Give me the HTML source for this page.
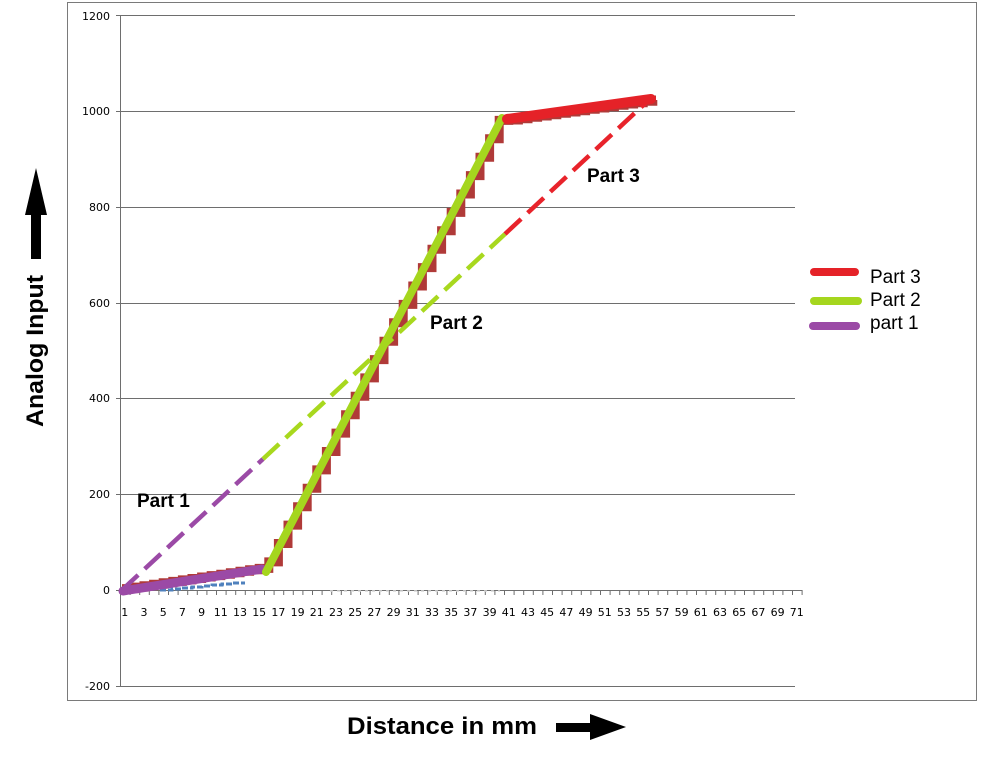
<!DOCTYPE html>
<html>
<head>
<meta charset="utf-8">
<style>
  html,body{margin:0;padding:0;background:#fff;}
  svg{display:block;}
  .tick{font-family:"DejaVu Sans","Liberation Sans",sans-serif;font-size:11px;fill:#000;}
  .lbl{font-family:"Liberation Sans",Arial,sans-serif;font-weight:bold;fill:#000;}
  .leg{font-family:"Liberation Sans",Arial,sans-serif;font-size:19px;fill:#000;}
</style>
</head>
<body>
<svg width="995" height="759" viewBox="0 0 995 759" xmlns="http://www.w3.org/2000/svg">
  <rect x="0" y="0" width="995" height="759" fill="#fff"/>
  <!-- chart border -->
  <rect x="67.5" y="2.5" width="909" height="698" fill="none" stroke="#7a7a7a" stroke-width="1"/>

  <!-- gridlines -->
  <g stroke="#6e6e6e" stroke-width="1">
    <line x1="116" y1="15.5" x2="795" y2="15.5"/>
    <line x1="116" y1="111.5" x2="795" y2="111.5"/>
    <line x1="116" y1="207.5" x2="795" y2="207.5"/>
    <line x1="116" y1="303.5" x2="795" y2="303.5"/>
    <line x1="116" y1="398.5" x2="795" y2="398.5"/>
    <line x1="116" y1="494.5" x2="795" y2="494.5"/>
    <line x1="116" y1="590.5" x2="802" y2="590.5"/>
    <line x1="116" y1="686.5" x2="795" y2="686.5"/>
    <line x1="120.5" y1="15" x2="120.5" y2="687"/>
  </g>

  <!-- x ticks -->
  <g stroke="#6e6e6e" stroke-width="1" id="xt"></g>

  <!-- y tick labels -->
  <g class="tick" text-anchor="end">
    <text x="110" y="20">1200</text>
    <text x="110" y="115">1000</text>
    <text x="110" y="211">800</text>
    <text x="110" y="307">600</text>
    <text x="110" y="402">400</text>
    <text x="110" y="498">200</text>
    <text x="110" y="594">0</text>
    <text x="110" y="690">-200</text>
  </g>

  <!-- x tick labels -->
  <g class="tick" text-anchor="middle" id="xl"></g>

  <!-- faint dotted line along axis -->
  <line x1="330" y1="591" x2="500" y2="591" stroke="#d8d8d8" stroke-width="1.5" stroke-dasharray="3 4"/>

  <!-- red staircase series -->
  <path d="M122 588.6 H134.4 V587.1 H144 V585.7 H153.6 V584.2 H163.2 V582.8 H172.8 V581.4 H182.4 V579.9 H192 V578.5 H201.6 V577 H211.2 V575.6 H220.8 V574.2 H230.4 V572.7 H240 V571.3 H249.6 V569.8 H259.2 V568.4 H268.8 V561.9 H278.4 V543.5 H288 V525.1 H297.6 V506.7 H307.2 V488.3 H316.8 V469.9 H326.4 V451.5 H336 V433.1 H345.6 V414.7 H355.2 V396.3 H364.8 V377.9 H374.4 V359.6 H384 V341.2 H393.6 V322.8 H403.2 V304.4 H412.8 V286 H422.4 V267.6 H432 V249.2 H441.6 V230.8 H451.2 V212.4 H460.8 V194 H470.4 V175.6 H480 V157.2 H489.6 V138.8 H499.2 V120.4 H508.8 V120 H518.4 V118.7 H528 V117.3 H537.6 V116 H547.2 V114.7 H556.8 V113.3 H566.4 V112 H576 V110.7 H585.6 V109.3 H595.2 V108 H604.8 V106.7 H614.4 V105.3 H624 V104 H633.6 V102.7 H643.2 V101.3 H652.8 V100 H656"
        fill="none" stroke="#b03a38" stroke-width="9" stroke-linejoin="miter"/>

  <!-- blue small series -->
  <path d="M160 590 H172 V589 H182 V588 H192 V587 H202 V586 H212 V585 H222 V584 H232 V583 H245"
        fill="none" stroke="#4f81bd" stroke-width="3" stroke-dasharray="6 2"/>

  <!-- dashed trend lines -->
  <line x1="122" y1="590" x2="263" y2="459" stroke="#9b4aa6" stroke-width="4.5" stroke-dasharray="22 9"/>
  <line x1="263" y1="459" x2="505" y2="234" stroke="#a8d81e" stroke-width="4.5" stroke-dasharray="22 9"/>
  <line x1="505" y1="234" x2="652" y2="97" stroke="#e8232b" stroke-width="4.5" stroke-dasharray="22 9"/>

  <!-- solid part lines -->
  <line x1="123" y1="591" x2="262" y2="569" stroke="#9b4aa6" stroke-width="9" stroke-linecap="round"/>
  <line x1="266" y1="572" x2="502" y2="118" stroke="#a5d61e" stroke-width="8" stroke-linecap="round"/>
  <line x1="507" y1="119" x2="651" y2="99" stroke="#e52228" stroke-width="10" stroke-linecap="round"/>

  <!-- part labels -->
  <text class="lbl" x="137" y="507" font-size="19">Part 1</text>
  <text class="lbl" x="430" y="329" font-size="19">Part 2</text>
  <text class="lbl" x="587" y="182" font-size="19">Part 3</text>

  <!-- legend -->
  <line x1="814" y1="272" x2="855" y2="272" stroke="#e52228" stroke-width="8" stroke-linecap="round"/>
  <line x1="814" y1="301" x2="858" y2="301" stroke="#a5d61e" stroke-width="8" stroke-linecap="round"/>
  <line x1="813" y1="326" x2="856" y2="326" stroke="#9b4aa6" stroke-width="8" stroke-linecap="round"/>
  <text class="leg" x="870" y="283">Part 3</text>
  <text class="leg" x="870" y="306">Part 2</text>
  <text class="leg" x="870" y="329">part 1</text>

  <!-- y axis title + arrow -->
  <text class="lbl" font-size="24" text-anchor="middle" transform="translate(43,351) rotate(-90)" textLength="152" lengthAdjust="spacingAndGlyphs">Analog Input</text>
  <polygon points="36,168 47,215 25,215" fill="#000"/>
  <rect x="31" y="214" width="10" height="45" fill="#000"/>

  <!-- x axis title + arrow -->
  <text class="lbl" font-size="24" x="347" y="734" textLength="190" lengthAdjust="spacingAndGlyphs">Distance in mm</text>
  <rect x="556" y="723" width="36" height="9" fill="#000"/>
  <polygon points="590,714 626,727 590,740" fill="#000"/>

  <script>
    (function(){
      var ns="http://www.w3.org/2000/svg";
      var g=document.getElementById("xt");
      for(var k=0;k<=71;k++){
        var x=120.5+k*9.6;
        var l=document.createElementNS(ns,"line");
        l.setAttribute("x1",x);l.setAttribute("x2",x);
        l.setAttribute("y1",590);l.setAttribute("y2",595);
        g.appendChild(l);
      }
      var gl=document.getElementById("xl");
      for(var i=1;i<=71;i+=2){
        var t=document.createElementNS(ns,"text");
        t.setAttribute("x",(120+(i-0.5)*9.6).toFixed(1));
        t.setAttribute("y",616);
        t.textContent=String(i);
        gl.appendChild(t);
      }
    })();
  </script>
</svg>
</body>
</html>
